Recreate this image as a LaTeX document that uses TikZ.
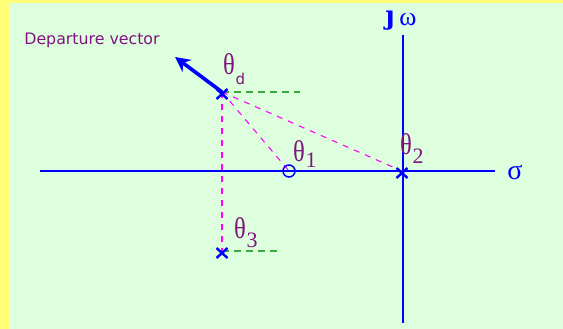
\documentclass[tikz,border=0pt]{standalone}
\usepackage{fontspec}
\setmainfont{Liberation Serif}
\newfontfamily\vsans{DejaVu Sans}
\newfontfamily\dserif{DejaVu Serif}
\usetikzlibrary{arrows.meta,calc}
\definecolor{bgyellow}{RGB}{255,255,120}
\definecolor{panel}{RGB}{221,255,221}
\definecolor{axisblue}{RGB}{0,0,255}
\definecolor{lblpurple}{RGB}{128,20,128}
\definecolor{magdash}{RGB}{255,0,255}
\definecolor{grndash}{RGB}{60,170,60}
\newcommand{\thchar}{\scalebox{0.82}[1]{θ}}
\tikzset{
  axisline/.style={draw=axisblue, line width=1.4pt},
  magline/.style={draw=magdash, line width=1.1pt, dash pattern=on 6pt off 6pt},
  grnline/.style={draw=grndash, line width=1.2pt, dash pattern=on 7pt off 5pt},
  polemark/.style={draw=axisblue, line width=2.4pt},
  theta/.style={text=lblpurple, inner sep=0pt, font=\fontsize{30}{30}\selectfont},
  subs/.style={text=lblpurple, inner sep=0pt, font=\fontsize{22}{22}\selectfont},
  axlabel/.style={text=axisblue, inner sep=0pt}
}
\begin{document}
\begin{tikzpicture}[x=1pt,y=-1pt]
\useasboundingbox (0,0) rectangle (563,329);
\fill[bgyellow] (0,0) rectangle (563,329);
\fill[panel] (9,3) rectangle (563,329);
% coordinates
\coordinate (pd) at (222,92);
\coordinate (p2) at (402,171);
\coordinate (p3) at (222,251);
\coordinate (z1) at (289,171);
\coordinate (tip) at (175,57);
\coordinate (gd) at (300,92);
\coordinate (g3) at (279,251);
% axes
\coordinate (hl) at (40,171);
\coordinate (hr) at (495,171);
\coordinate (vt) at (403,35);
\coordinate (vbt) at (403,323);
\draw[axisline] (hl) -- (hr);
\draw[axisline] (vt) -- (vbt);
% construction lines
\draw[grnline] (pd) -- (gd);
\draw[grnline] (p3) -- (g3);
\draw[magline] (pd) -- (p3);
\draw[magline] (pd) -- (z1);
\draw[magline] (pd) -- (p2);
% zero
\node[draw=axisblue, line width=1.5pt, circle, minimum size=12pt, inner sep=0pt] (zero) at (z1) {};
% poles
\foreach \p in {pd,p2,p3}{
  \draw[polemark] ($(\p)+(-5.5,-3)$) -- ($(\p)+(5.5,7)$);
  \draw[polemark] ($(\p)+(-5.5,7)$) -- ($(\p)+(5.5,-3)$);
}
% departure vector
\draw[draw=axisblue, line width=3.6pt, -{Stealth[length=15pt,width=15pt,inset=5pt]}] (pd) -- (tip);
\node[text=lblpurple, inner sep=0pt, font=\vsans\fontsize{15.8}{15.8}\selectfont] (dv) at (92,40) {Departure vector};
% labels
\node[theta] (td) at (229,64) {\thchar};
\node[subs, font=\vsans\fontsize{15}{15}\selectfont] (tds) at (240.5,79) {d};
\node[theta] (t1) at (299,151) {\thchar};
\node[subs] (t1s) at (311,160) {1};
\node[theta] (t2) at (406,144) {\thchar};
\node[subs] (t2s) at (418,156) {2};
\node[theta] (t3) at (240,228) {\thchar};
\node[subs] (t3s) at (252,240) {3};
\node[axlabel, font=\fontsize{28}{28}\selectfont] (sig) at (515,172) {σ};
\node[axlabel, font=\dserif\bfseries\fontsize{26}{26}\selectfont] (jj) at (390,21) {ȷ};
\node[axlabel, font=\fontsize{26}{26}\selectfont] (om) at (408,20) {ω};
\end{tikzpicture}
\end{document}
